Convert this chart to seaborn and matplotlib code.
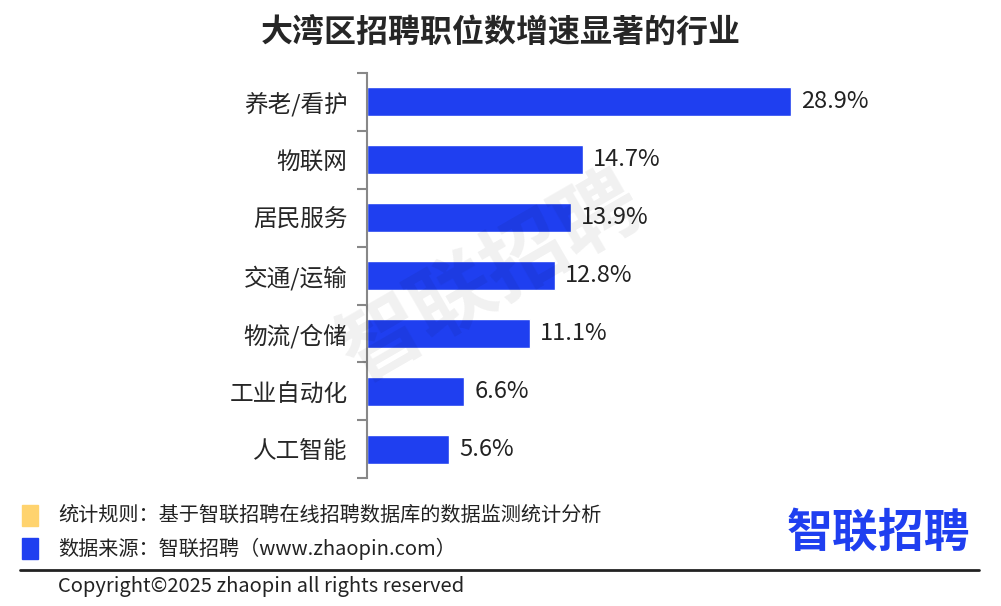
import matplotlib
matplotlib.use("Agg")
import matplotlib.pyplot as plt
import seaborn as sns
import pandas as pd
import numpy as np

categories = ["养老/看护", "物联网", "居民服务", "交通/运输", "物流/仓储", "工业自动化", "人工智能"]
values = [28.9, 14.7, 13.9, 12.8, 11.1, 6.6, 5.6]
labels = ["28.9%", "14.7%", "13.9%", "12.8%", "11.1%", "6.6%", "5.6%"]

sns.set_style("white")
plt.rcParams['font.family'] = ['Noto Sans CJK SC', 'DejaVu Sans']

fig = plt.figure(figsize=(10.01, 6.06), dpi=100)
ax = fig.add_axes([0.3666, 0.211, 0.44, 0.6685])
df = pd.DataFrame({"cat": categories, "val": values})
sns.barplot(data=df, y="cat", x="val", orient="h", color="#1f3ff0", saturation=1, width=0.5, ax=ax)
ax.set_xlim(0, 30)
ax.set_ylim(6.5, -0.5)
ax.set_xlabel(""); ax.set_ylabel("")
ax.set_xticks([])
for s in ["top", "right", "bottom"]:
    ax.spines[s].set_visible(False)
ax.spines["left"].set_color("#888888")
ax.spines["left"].set_linewidth(1.5)
ax.set_yticks(np.arange(len(categories)))
ax.set_yticklabels(categories, fontsize=17)
ax.tick_params(axis="y", which="major", left=True, length=0, pad=14)
ax.set_yticks(np.arange(-0.5, len(categories)), minor=True)
ax.tick_params(axis="y", which="minor", left=True, length=7, width=1.5, color="#888888", direction="out")
for i, (v, l) in enumerate(zip(values, labels)):
    ax.text(v + 0.7, i, l, va="center", ha="left", fontsize=17, color="#222222")

fig.text(0.5, 0.945, "大湾区招聘职位数增速显著的行业", ha="center", va="center", fontsize=23, fontweight="bold")
fig.text(0.49, 0.54, "智联招聘", ha="center", va="center", fontsize=60, fontweight="bold",
         color="#000000", alpha=0.06, rotation=30)

fig.patches.append(plt.Rectangle((0.022, 0.132), 0.016, 0.034, transform=fig.transFigure, color="#ffd36e"))
fig.patches.append(plt.Rectangle((0.022, 0.078), 0.016, 0.034, transform=fig.transFigure, color="#1f3ff0"))
fig.text(0.058, 0.149, "统计规则：基于智联招聘在线招聘数据库的数据监测统计分析", va="center", fontsize=14.5, color="#222222")
fig.text(0.058, 0.095, "数据来源：智联招聘（www.zhaopin.com）", va="center", fontsize=14.5, color="#222222")
fig.text(0.877, 0.12, "智联招聘", ha="center", va="center", fontsize=33, fontweight="bold", color="#1f3ff0")
fig.add_artist(plt.Line2D([0.02, 0.978], [0.06, 0.06], transform=fig.transFigure, color="#222222", lw=2))
fig.text(0.058, 0.032, "Copyright©2025 zhaopin all rights reserved", va="center", fontsize=14.5, color="#222222")

fig.savefig("out.png", dpi=100)
